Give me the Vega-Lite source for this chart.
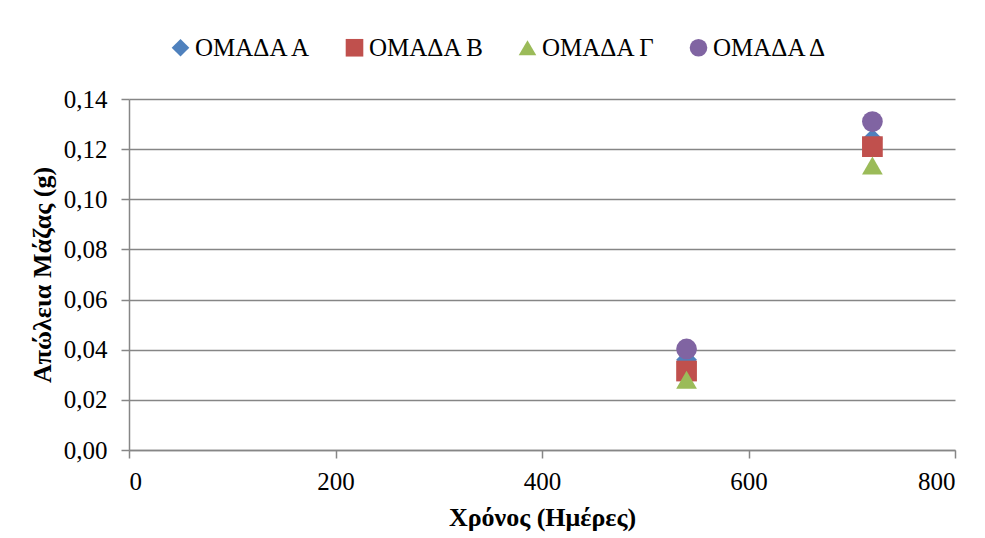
{
  "$schema": "https://vega.github.io/schema/vega-lite/v6.json",
  "width": 826,
  "height": 351,
  "autosize": {"type": "none"},
  "padding": {"left": 129, "top": 99, "right": 30, "bottom": 88},
  "background": "white",
  "config": {
    "locale": {"number": {"decimal": ",", "thousands": ".", "grouping": [3], "currency": ["", " €"]}},
    "view": {"stroke": null},
    "font": "Liberation Serif",
    "axis": {
      "labelFont": "Liberation Serif",
      "titleFont": "Liberation Serif",
      "labelFontSize": 25,
      "titleFontSize": 26,
      "labelColor": "black",
      "titleColor": "black",
      "domainColor": "#868686",
      "tickColor": "#868686",
      "gridColor": "#868686",
      "domainWidth": 1.5,
      "gridWidth": 1.5,
      "tickWidth": 1.5
    },
    "legend": {"labelFont": "Liberation Serif", "labelFontSize": 25, "labelColor": "black"}
  },
  "data": {
    "values": [
      {"days": 540, "loss": 0.036, "group": "ΟΜΑΔΑ Α"},
      {"days": 720, "loss": 0.124, "group": "ΟΜΑΔΑ Α"},
      {"days": 540, "loss": 0.0315, "group": "ΟΜΑΔΑ Β"},
      {"days": 720, "loss": 0.121, "group": "ΟΜΑΔΑ Β"},
      {"days": 540, "loss": 0.028, "group": "ΟΜΑΔΑ Γ"},
      {"days": 720, "loss": 0.1135, "group": "ΟΜΑΔΑ Γ"},
      {"days": 540, "loss": 0.0403, "group": "ΟΜΑΔΑ Δ"},
      {"days": 720, "loss": 0.131, "group": "ΟΜΑΔΑ Δ"}
    ]
  },
  "mark": {"type": "point", "filled": true, "opacity": 1, "size": 430},
  "encoding": {
    "x": {
      "field": "days",
      "type": "quantitative",
      "scale": {"domain": [0, 800], "nice": false},
      "axis": {
        "title": "Χρόνος (Ημέρες)",
        "titleFontWeight": "bold",
        "titlePadding": 10,
        "values": [0, 200, 400, 600, 800],
        "grid": false,
        "tickSize": 8,
        "labelPadding": 11,
        "format": "d"
      }
    },
    "y": {
      "field": "loss",
      "type": "quantitative",
      "scale": {"domain": [0, 0.14], "nice": false},
      "axis": {
        "title": "Απώλεια Μάζας (g)",
        "titleFontWeight": "bold",
        "titlePadding": 8,
        "values": [0, 0.02, 0.04, 0.06, 0.08, 0.1, 0.12, 0.14],
        "format": ".2f",
        "grid": true,
        "tickSize": 8,
        "labelPadding": 14
      }
    },
    "color": {
      "field": "group",
      "type": "nominal",
      "scale": {
        "domain": ["ΟΜΑΔΑ Α", "ΟΜΑΔΑ Β", "ΟΜΑΔΑ Γ", "ΟΜΑΔΑ Δ"],
        "range": ["#4F81BD", "#C0504D", "#9BBB59", "#8064A2"]
      },
      "legend": {
        "orient": "none",
        "direction": "horizontal",
        "legendX": 39,
        "legendY": -64,
        "title": null,
        "symbolSize": 310,
        "columnPadding": 30,
        "labelOffset": 2
      }
    },
    "shape": {
      "field": "group",
      "type": "nominal",
      "scale": {
        "domain": ["ΟΜΑΔΑ Α", "ΟΜΑΔΑ Β", "ΟΜΑΔΑ Γ", "ΟΜΑΔΑ Δ"],
        "range": ["diamond", "square", "triangle-up", "circle"]
      },
      "legend": null
    }
  }
}
